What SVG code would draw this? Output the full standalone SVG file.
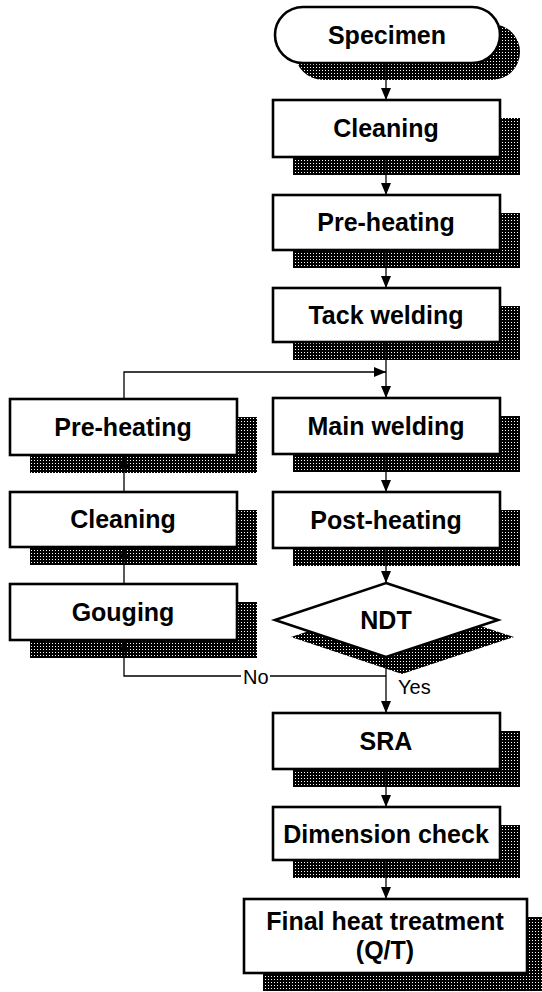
<svg xmlns="http://www.w3.org/2000/svg" width="542" height="992" viewBox="0 0 542 992">
<defs>
  <pattern id="ht" width="3" height="3" patternUnits="userSpaceOnUse">
    <rect width="3" height="3" fill="#000"/>
    <rect x="1" y="1" width="1" height="1" fill="#fff"/>
  </pattern>
  <marker id="arr" viewBox="0 0 12 10" refX="12" refY="5" markerWidth="12" markerHeight="10" markerUnits="userSpaceOnUse" orient="auto">
    <path d="M0,0 L12,5 L0,10 Z" fill="#000"/>
  </marker>
  <style>
    .sh { fill: url(#ht); }
    .bx { fill: #fff; stroke: #000; stroke-width: 2.6; }
    .t { font-family: "Liberation Sans", Arial, sans-serif; font-weight: bold; font-size: 25px; text-anchor: middle; fill: #000; }
    .lb { font-family: "Liberation Sans", Arial, sans-serif; font-size: 20px; fill: #000; }
    .c { fill: none; stroke: #000; stroke-width: 1.3; }
  </style>
</defs>
<rect width="542" height="992" fill="#fff"/>

<!-- shadows -->
<g id="shadows">
  <rect class="sh" x="295" y="24" width="225" height="56" rx="28"/>
  <rect class="sh" x="293" y="118" width="227" height="57"/>
  <rect class="sh" x="293" y="213" width="227" height="55"/>
  <rect class="sh" x="293" y="306" width="227" height="54"/>
  <rect class="sh" x="293" y="416" width="227" height="56"/>
  <rect class="sh" x="293" y="510" width="227" height="56"/>
  <polygon class="sh" points="402,600 514,637 402,674 291,637"/>
  <rect class="sh" x="293" y="731" width="227" height="56"/>
  <rect class="sh" x="293" y="825" width="227" height="53"/>
  <rect class="sh" x="263" y="917" width="283" height="74"/>
  <rect class="sh" x="30" y="417" width="227" height="56"/>
  <rect class="sh" x="30" y="510" width="227" height="55"/>
  <rect class="sh" x="30" y="602" width="227" height="56"/>
</g>

<g id="connectors">
  <line class="c" x1="386" y1="63" x2="386" y2="100" marker-end="url(#arr)"/>
  <line class="c" x1="386" y1="157" x2="386" y2="195" marker-end="url(#arr)"/>
  <line class="c" x1="386" y1="250" x2="386" y2="288" marker-end="url(#arr)"/>
  <line class="c" x1="386" y1="342" x2="386" y2="398" marker-end="url(#arr)"/>
  <line class="c" x1="386" y1="454" x2="386" y2="492" marker-end="url(#arr)"/>
  <line class="c" x1="386" y1="548" x2="386" y2="583" marker-end="url(#arr)"/>
  <line class="c" x1="386" y1="657" x2="386" y2="713" marker-end="url(#arr)"/>
  <line class="c" x1="386" y1="769" x2="386" y2="807" marker-end="url(#arr)"/>
  <line class="c" x1="386" y1="860" x2="386" y2="899" marker-end="url(#arr)"/>
  <polyline class="c" points="124,399 124,372 386,372" marker-end="url(#arr)"/>
  <line class="c" x1="124" y1="492" x2="124" y2="455" marker-end="url(#arr)"/>
  <line class="c" x1="124" y1="584" x2="124" y2="547" marker-end="url(#arr)"/>
  <line class="c" x1="386" y1="676" x2="270" y2="676"/>
  <polyline class="c" points="241,676 124,676 124,640" marker-end="url(#arr)"/>
  <text class="lb" x="243" y="684">No</text>
  <text class="lb" x="398" y="694">Yes</text>
</g>

<g id="specimen">
  <rect class="bx" x="275" y="7" width="225" height="56" rx="28"/>
  <text class="t" x="387" y="44">Specimen</text>
</g>
<g id="cleaning1">
  <rect class="bx" x="273" y="100" width="227" height="57"/>
  <text class="t" x="386" y="137">Cleaning</text>
</g>
<g id="preheating1">
  <rect class="bx" x="273" y="195" width="227" height="55"/>
  <text class="t" x="386" y="231">Pre-heating</text>
</g>
<g id="tackwelding">
  <rect class="bx" x="273" y="288" width="227" height="54"/>
  <text class="t" x="386" y="324">Tack welding</text>
</g>
<g id="mainwelding">
  <rect class="bx" x="273" y="398" width="227" height="56"/>
  <text class="t" x="386" y="435">Main welding</text>
</g>
<g id="postheating">
  <rect class="bx" x="273" y="492" width="227" height="56"/>
  <text class="t" x="386" y="529">Post-heating</text>
</g>
<g id="ndt">
  <polygon class="bx" points="386,583 498,620 386,657 275,620"/>
  <text class="t" x="386" y="629">NDT</text>
</g>
<g id="sra">
  <rect class="bx" x="273" y="713" width="227" height="56"/>
  <text class="t" x="386" y="750">SRA</text>
</g>
<g id="dimensioncheck">
  <rect class="bx" x="273" y="807" width="227" height="53"/>
  <text class="t" x="386" y="843">Dimension check</text>
</g>
<g id="finalheat">
  <rect class="bx" x="244" y="899" width="283" height="74"/>
  <text class="t" x="385" y="930">Final heat treatment</text>
  <text class="t" x="385" y="959">(Q/T)</text>
</g>
<g id="preheating2">
  <rect class="bx" x="10" y="399" width="227" height="56"/>
  <text class="t" x="123" y="436">Pre-heating</text>
</g>
<g id="cleaning2">
  <rect class="bx" x="10" y="492" width="227" height="55"/>
  <text class="t" x="123" y="528">Cleaning</text>
</g>
<g id="gouging">
  <rect class="bx" x="10" y="584" width="227" height="56"/>
  <text class="t" x="123" y="621">Gouging</text>
</g>
</svg>
